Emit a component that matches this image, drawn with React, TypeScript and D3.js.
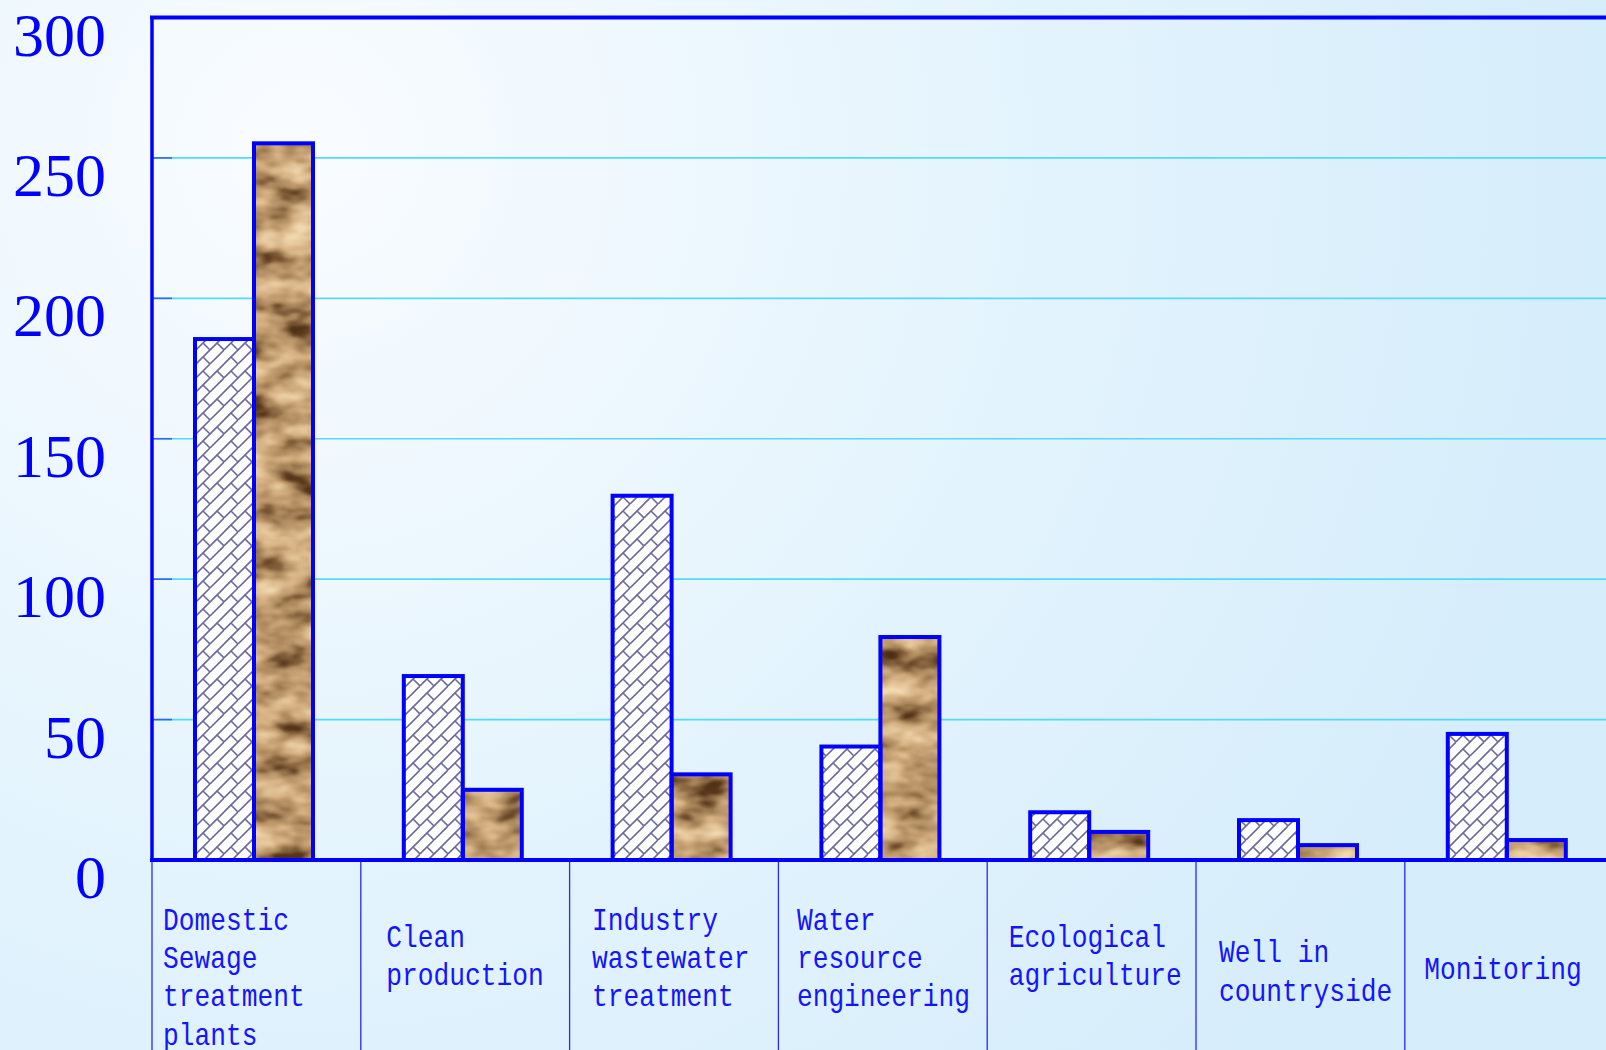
import * as d3 from 'd3'

const categories = [
  'Domestic Sewage treatment plants',
  'Clean production',
  'Industry wastewater treatment',
  'Water resource engineering',
  'Ecological agriculture',
  'Well in countryside',
  'Monitoring',
]

const labelLines = [
  ['Domestic', 'Sewage', 'treatment', 'plants'],
  ['Clean', 'production'],
  ['Industry', 'wastewater', 'treatment'],
  ['Water', 'resource', 'engineering'],
  ['Ecological', 'agriculture'],
  ['Well in', 'countryside'],
  ['Monitoring'],
]

// hatched series and textured series
const hatchedValues = [185.5, 65.5, 129.7, 40.4, 17, 14.2, 44.9]
const texturedValues = [255.2, 25, 30.5, 79.4, 10, 5.3, 7.1]

const yTicks = [0, 50, 100, 150, 200, 250, 300]

// label layout (per category), not data
const labelInset = [11, 25.5, 22.5, 18.5, 21.5, 23, 19.5]
const labelBaseline = [930, 946.7, 930, 930, 946.7, 962.3, 979.3]

const W = 1606
const H = 1050
const left = 152
const top = 17.5
const bottom = 860
const bandW = 208.8

export default function App() {
  const x = d3.scaleBand<string>()
    .domain(categories)
    .range([left, left + bandW * categories.length])
    .padding(0)

  const sub = d3.scaleBand<string>()
    .domain(['hatched', 'textured'])
    .range([43, 43 + 118])
    .padding(0)

  const y = d3.scaleLinear().domain([0, 300]).range([bottom, top])

  const blue = '#0000ff'
  const hatchInk = '#6a6aa0'

  return (
    <svg width={W} height={H} style={{ position: 'absolute', left: 0, top: 0 }}>
      <defs>
        <radialGradient id="bg" cx={300} cy={150} r={1300} gradientUnits="userSpaceOnUse">
          <stop offset="0" stopColor="#f9fcff" />
          <stop offset="0.6" stopColor="#e2f3fd" />
          <stop offset="1" stopColor="#d6edfb" />
        </radialGradient>
        <pattern id="hatch" width={28} height={28} patternUnits="userSpaceOnUse">
          <rect width={28} height={28} fill="#ffffff" />
          <path
            d="M0,14 L14,0 M0,28 L28,0 M14,28 L28,14 M-2,2 L2,-2 M26,30 L30,26"
            stroke={hatchInk}
            strokeWidth={1.6}
          />
          <path
            d="M7,7 L14,14 M21,7 L28,14 M-7,7 L0,14 M7,21 L14,28 M7,-7 L14,0"
            stroke={hatchInk}
            strokeWidth={1.6}
          />
        </pattern>
        <filter id="tex" x="0" y="0" width="1" height="1" colorInterpolationFilters="sRGB">
          <feTurbulence type="fractalNoise" baseFrequency="0.022 0.04" numOctaves={3} seed={11} />
          <feColorMatrix
            type="matrix"
            values="1 0 0 0 0  1 0 0 0 0  1 0 0 0 0  0 0 0 0 1"
          />
          <feComponentTransfer>
            <feFuncR type="table" tableValues="0.25 0.35 0.66 0.84 0.94 0.98" />
            <feFuncG type="table" tableValues="0.14 0.22 0.52 0.7 0.84 0.9" />
            <feFuncB type="table" tableValues="0.06 0.11 0.35 0.52 0.68 0.76" />
          </feComponentTransfer>
        </filter>
      </defs>

      <rect width={W} height={H} fill="url(#bg)" />

      {/* gridlines */}
      {yTicks.filter(t => t > 0 && t < 300).map(t => (
        <g key={t}>
          <line x1={left} x2={W} y1={y(t)} y2={y(t)} stroke="#55d8fa" strokeWidth={1.6} />
          <line x1={left} x2={left + 20} y1={y(t)} y2={y(t)} stroke="#3366ee" strokeWidth={1.6} />
        </g>
      ))}

      {/* y labels */}
      {yTicks.map(t => (
        <text
          key={t}
          x={106}
          y={y(t) + 38}
          textAnchor="end"
          fontFamily="'Liberation Serif', serif"
          fontSize={62}
          fill={blue}
        >
          {t}
        </text>
      ))}

      {/* category separators */}
      {categories.map(c => (
        <line key={c} x1={x(c)!} x2={x(c)!} y1={bottom} y2={H} stroke="#2828ff" strokeWidth={1.3} />
      ))}

      {/* bars */}
      {categories.map((c, i) => {
        const bx = x(c)!
        const hx = bx + sub('hatched')!
        const tx = bx + sub('textured')!
        const bw = sub.bandwidth()
        return (
          <g key={c}>
            <rect x={hx} y={y(hatchedValues[i])} width={bw} height={bottom - y(hatchedValues[i])} fill="url(#hatch)" />
            <rect x={tx} y={y(texturedValues[i])} width={bw} height={bottom - y(texturedValues[i])} fill="#b89470" filter="url(#tex)" />
            <rect x={hx} y={y(hatchedValues[i])} width={bw} height={bottom - y(hatchedValues[i])} fill="none" stroke={blue} strokeWidth={4} />
            <rect x={tx} y={y(texturedValues[i])} width={bw} height={bottom - y(texturedValues[i])} fill="none" stroke={blue} strokeWidth={4} />
          </g>
        )
      })}

      {/* frame */}
      <line x1={left - 2} x2={W} y1={top} y2={top} stroke={blue} strokeWidth={4} />
      <line x1={left} x2={left} y1={top} y2={bottom} stroke={blue} strokeWidth={3.5} />
      <line x1={left - 2} x2={W} y1={bottom} y2={bottom} stroke={blue} strokeWidth={4} />

      {/* category labels */}
      {categories.map((c, i) => (
        <g key={c}>
          {labelLines[i].map((ln, j) => (
            <text
              key={j}
              transform={`translate(${x(c)! + labelInset[i]},${labelBaseline[i] + j * 38.2}) scale(0.82,1)`}
              fontFamily="'Liberation Mono', monospace"
              fontSize={32}
              fill="#1414ff"
              style={{ whiteSpace: 'pre' }}
            >
              {ln}
            </text>
          ))}
        </g>
      ))}
    </svg>
  )
}
